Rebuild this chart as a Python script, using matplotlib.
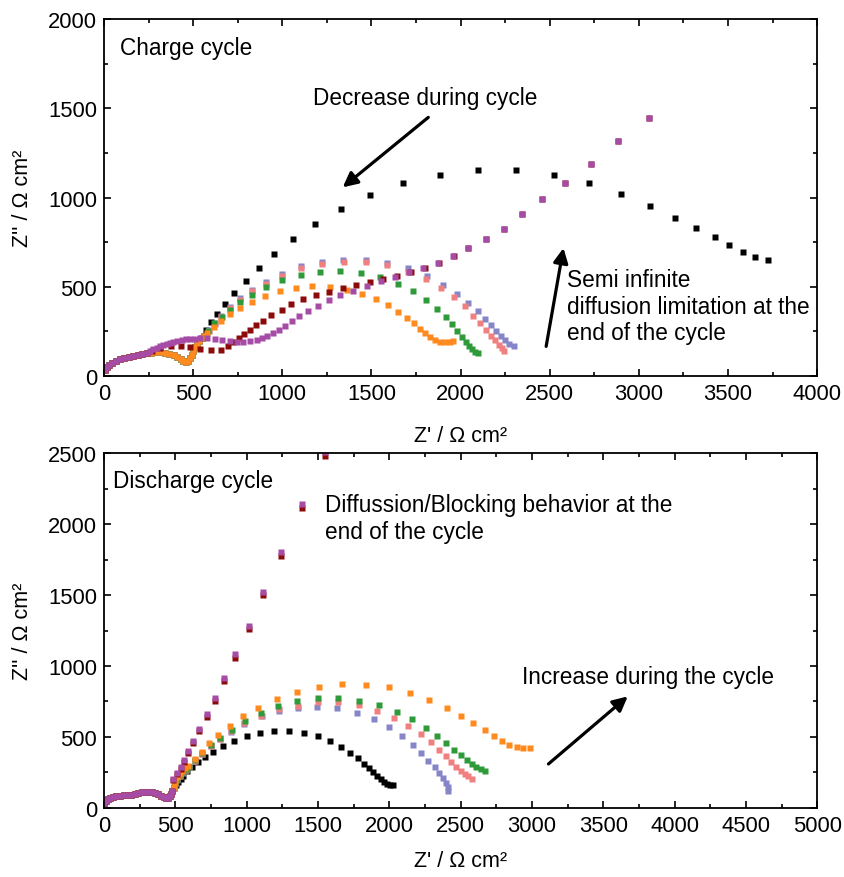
import matplotlib.pyplot as plt
from matplotlib.ticker import MultipleLocator

plt.rcParams['font.family'] = ['Liberation Sans', 'DejaVu Sans']

# --- charge cycle (top) ---
# shared high-frequency arc
arc_top_x = [5, 15, 28, 45, 65, 90, 115, 140, 165, 190, 215, 240]
arc_top_y = [35, 50, 62, 74, 84, 93, 99, 104, 110, 116, 122, 128]
# dip seen in orange / green / salmon / blue / black
dip_top_x = [265, 290, 315, 340, 365, 390, 410, 430, 445, 460, 472, 482, 492, 502, 512, 523, 535, 547, 560]
dip_top_y = [131, 133, 133, 130, 125, 117, 107, 95, 85, 78, 86, 100, 120, 142, 162, 180, 198, 213, 226]

black_top_x = [572, 600, 636, 681, 731, 795, 868, 954, 1058, 1184, 1330, 1494, 1679, 1883, 2098, 2311,
               2523, 2720, 2900, 3061, 3205, 3323, 3426, 3506, 3583, 3654, 3727]
black_top_y = [258, 301, 349, 403, 463, 530, 603, 682, 767, 853, 937, 1016, 1079, 1126, 1154, 1154,
               1126, 1081, 1021, 952, 887, 827, 780, 734, 696, 668, 648]

orange_top_x = [580, 617, 658, 707, 765, 832, 901, 989, 1075, 1169, 1268, 1361, 1446, 1524, 1593, 1647,
                1698, 1739, 1774, 1802, 1829, 1857, 1885, 1913, 1941, 1956]
orange_top_y = [239, 276, 308, 349, 381, 416, 448, 474, 495, 504, 499, 484, 461, 431, 400, 360,
                325, 295, 263, 239, 216, 203, 192, 188, 192, 196]

green_top_x = [581, 619, 660, 707, 765, 832, 909, 1000, 1105, 1214, 1326, 1442, 1548, 1647, 1731, 1804,
               1866, 1916, 1950, 1982, 2006, 2028, 2047, 2066, 2081, 2100]
green_top_y = [254, 295, 332, 370, 413, 456, 497, 538, 566, 583, 588, 575, 556, 517, 474, 426,
               377, 331, 291, 252, 218, 192, 170, 151, 136, 127]

salmon_top_x = [590, 622, 656, 707, 763, 830, 909, 999, 1105, 1223, 1345, 1468, 1589, 1707, 1806, 1890,
                1965, 2025, 2072, 2109, 2143, 2171, 2193, 2214, 2231, 2246]
salmon_top_y = [250, 290, 332, 379, 427, 474, 517, 562, 603, 629, 636, 640, 622, 583, 543, 493,
                441, 394, 338, 295, 258, 226, 202, 175, 157, 142]

blue_top_x = [590, 622, 656, 707, 763, 830, 909, 999, 1105, 1223, 1341, 1468, 1589, 1707, 1810, 1904,
              1979, 2044, 2096, 2139, 2171, 2199, 2225, 2250, 2274, 2300]
blue_top_y = [255, 296, 338, 386, 435, 482, 526, 572, 614, 640, 650, 650, 631, 603, 560, 511,
              462, 409, 366, 322, 286, 254, 226, 203, 182, 168]

darkred_top_x = [270, 314, 374, 431, 482, 539, 598, 654, 697, 723, 755, 787, 817, 853, 892, 937, 997, 1051,
                 1116, 1189, 1262, 1339, 1412, 1492, 1567, 1645, 1724, 1801, 1881, 1963, 2044, 2141,
                 2244, 2347, 2457, 2583, 2730, 2885, 3056]
darkred_top_y = [142, 159, 170, 170, 162, 151, 144, 147, 170, 192, 212, 234, 255, 284, 310, 340, 371, 401,
                 429, 454, 472, 493, 512, 528, 543, 558, 580, 605, 633, 670, 717, 765,
                 823, 905, 992, 1081, 1188, 1315, 1444]

purple_top_x = [258, 277, 296, 314, 333, 351, 370, 389, 412, 436, 459, 482, 510, 539, 576, 622, 660, 707,
                744, 781, 819, 856, 884, 912, 950, 981, 1015, 1053, 1096, 1146, 1203, 1260, 1326,
                1398, 1475, 1554, 1633, 1713, 1791, 1875, 1956, 2044, 2141, 2244, 2347, 2457,
                2583, 2730, 2885, 3056]
purple_top_y = [142, 151, 159, 166, 173, 179, 186, 192, 197, 202, 205, 207, 209, 211, 211, 207, 202, 194,
                192, 192, 194, 199, 211, 222, 241, 259, 282, 308, 336, 364, 394, 426, 454,
                478, 502, 530, 552, 580, 605, 635, 672, 717, 765, 823, 905, 992,
                1081, 1188, 1315, 1444]

# --- discharge cycle (bottom) ---
arc_bot_x = [3, 12, 25, 42, 60, 85, 112, 140, 165, 190, 215, 240, 265, 290, 315, 340, 360, 380,
             400, 418, 435, 448, 460, 470, 478]
arc_bot_y = [35, 50, 60, 68, 75, 82, 87, 89, 91, 94, 100, 106, 111, 114, 115, 112, 106, 97,
             86, 76, 70, 68, 82, 100, 120]

black_bot_x = [490, 505, 520, 537, 556, 585, 614, 661, 708, 767, 832, 912, 1000, 1094, 1194, 1294, 1400,
               1498, 1585, 1661, 1725, 1778, 1825, 1860, 1888, 1916, 1942, 1964, 1982, 2006, 2029]
black_bot_y = [140, 165, 185, 207, 227, 258, 286, 321, 357, 397, 439, 474, 507, 528, 544, 544, 528,
               507, 472, 432, 389, 349, 312, 279, 250, 227, 204, 185, 169, 162, 164]

orange_bot_x = [488, 500, 515, 530, 548, 568, 591, 638, 684, 738, 801, 884, 972, 1082, 1210, 1355, 1507,
                1666, 1834, 1996, 2145, 2281, 2402, 2503, 2590, 2668, 2735, 2788, 2842, 2894, 2941, 2990]
orange_bot_y = [150, 185, 215, 240, 262, 282, 298, 345, 392, 456, 514, 575, 646, 706, 768, 817, 854,
                871, 868, 852, 812, 763, 706, 650, 596, 547, 507, 472, 444, 430, 420, 420]

green_bot_x = [488, 500, 515, 532, 552, 574, 598, 640, 684, 748, 813, 895, 989, 1099, 1217, 1355, 1498,
               1643, 1788, 1928, 2052, 2162, 2255, 2337, 2398, 2454, 2501, 2543, 2578, 2608, 2641, 2671]
green_bot_y = [145, 178, 207, 232, 254, 272, 290, 335, 385, 446, 493, 551, 610, 669, 716, 751, 772,
               772, 756, 722, 678, 624, 566, 509, 458, 411, 371, 335, 312, 291, 275, 264]

salmon_bot_x = [488, 500, 515, 532, 552, 574, 598, 640, 690, 750, 815, 890, 985, 1100, 1227, 1363, 1503,
                1643, 1788, 1912, 2033, 2134, 2223, 2293, 2348, 2398, 2433, 2468, 2501, 2531, 2554, 2578]
salmon_bot_y = [142, 175, 204, 228, 250, 268, 288, 333, 383, 438, 487, 543, 598, 648, 697, 720, 743,
                743, 725, 685, 636, 580, 519, 463, 411, 364, 322, 289, 261, 242, 223, 204]

blue_bot_x = [488, 500, 515, 532, 552, 574, 598, 640, 690, 750, 815, 890, 985, 1106, 1227, 1358, 1496,
              1636, 1772, 1893, 1998, 2087, 2164, 2223, 2274, 2320, 2351, 2374, 2395, 2410, 2410]
blue_bot_y = [140, 172, 200, 225, 247, 266, 286, 330, 380, 435, 483, 538, 594, 646, 681, 706, 714,
              702, 671, 624, 570, 509, 446, 387, 333, 286, 243, 208, 176, 146, 122]

purple_bot_x = [486, 514, 537, 561, 591, 626, 668, 720, 776, 841, 920, 1016, 1115, 1241, 1391, 1551]
purple_bot_y = [204, 246, 286, 335, 399, 470, 558, 660, 777, 918, 1082, 1280, 1519, 1801, 2139, 2505]
darkred_bot_y = [196, 236, 274, 322, 386, 456, 542, 642, 757, 896, 1058, 1262, 1500, 1778, 2112, 2480]

colors = {
    'black': '#000000',
    'blue': '#8585c8',
    'salmon': '#f08080',
    'green': '#2f9a3a',
    'orange': '#ff8a1f',
    'darkred': '#8b0a0a',
    'purple': '#a64ca6',
}

ms = 4.0
fs = 16.3


def pts(ax, x, y, c):
    ax.plot(x, y, 's', ms=ms, color=c, mec='none')


def with_dip(x, y):
    return arc_top_x + dip_top_x + x, arc_top_y + dip_top_y + y


def style(ax, xmax, ymax, xpad):
    ax.set_xlim(0, xmax)
    ax.set_ylim(0, ymax)
    ax.xaxis.set_major_locator(MultipleLocator(500))
    ax.xaxis.set_minor_locator(MultipleLocator(250))
    ax.yaxis.set_major_locator(MultipleLocator(500))
    ax.yaxis.set_minor_locator(MultipleLocator(250))
    ax.tick_params(which='both', direction='in', top=True, right=True, labelsize=15.8, width=1.2)
    ax.tick_params(which='major', length=5, pad=5)
    ax.tick_params(which='minor', length=3)
    for s in ax.spines.values():
        s.set_linewidth(1.3)
    ax.set_xlabel("Z' / \u03a9 cm\u00b2", fontsize=15.5, labelpad=xpad)
    ax.set_ylabel("Z'' / \u03a9 cm\u00b2", fontsize=15.5, labelpad=11)


fig = plt.figure(figsize=(8.44, 8.78), dpi=100)
ax1 = fig.add_axes([0.1232, 0.5706, 0.845, 0.4066])
ax2 = fig.add_axes([0.1232, 0.0786, 0.845, 0.4043])

# top panel
pts(ax1, *with_dip(black_top_x, black_top_y), colors['black'])
pts(ax1, *with_dip(blue_top_x, blue_top_y), colors['blue'])
pts(ax1, *with_dip(salmon_top_x, salmon_top_y), colors['salmon'])
pts(ax1, *with_dip(green_top_x, green_top_y), colors['green'])
pts(ax1, *with_dip(orange_top_x, orange_top_y), colors['orange'])
pts(ax1, arc_top_x + darkred_top_x, arc_top_y + darkred_top_y, colors['darkred'])
pts(ax1, arc_top_x + purple_top_x, arc_top_y + purple_top_y, colors['purple'])
style(ax1, 4000, 2000, 15)

ax1.text(90, 1843, 'Charge cycle', fontsize=fs, va='center')
ax1.text(1172, 1563, 'Decrease during cycle', fontsize=fs, va='center')
ax1.text(2596, 390, 'Semi infinite\ndiffusion limitation at the\nend of the cycle',
         fontsize=fs, va='center', linespacing=1.2)
arrow = dict(arrowstyle='-|>', lw=2.3, color='black', mutation_scale=22, shrinkA=0, shrinkB=0)
ax1.annotate('', xy=(1339, 1057), xytext=(1819, 1449), arrowprops=arrow)
ax1.annotate('', xy=(2577, 717), xytext=(2480, 166), arrowprops=arrow)

# bottom panel
pts(ax2, arc_bot_x + black_bot_x, arc_bot_y + black_bot_y, colors['black'])
pts(ax2, arc_bot_x + blue_bot_x, arc_bot_y + blue_bot_y, colors['blue'])
pts(ax2, arc_bot_x + salmon_bot_x, arc_bot_y + salmon_bot_y, colors['salmon'])
pts(ax2, arc_bot_x + green_bot_x, arc_bot_y + green_bot_y, colors['green'])
pts(ax2, arc_bot_x + orange_bot_x, arc_bot_y + orange_bot_y, colors['orange'])
pts(ax2, arc_bot_x + purple_bot_x, arc_bot_y + darkred_bot_y, colors['darkred'])
pts(ax2, arc_bot_x + purple_bot_x, arc_bot_y + purple_bot_y, colors['purple'])
style(ax2, 5000, 2500, 10)

ax2.text(65, 2305, 'Discharge cycle', fontsize=fs, va='center')
ax2.text(1550, 2042, 'Diffussion/Blocking behavior at the\nend of the cycle',
         fontsize=fs, va='center', linespacing=1.2)
ax2.text(2929, 927, 'Increase during the cycle', fontsize=fs, va='center')
ax2.annotate('', xy=(3672, 786), xytext=(3116, 310), arrowprops=arrow)

fig.savefig('out.png', dpi=100)
